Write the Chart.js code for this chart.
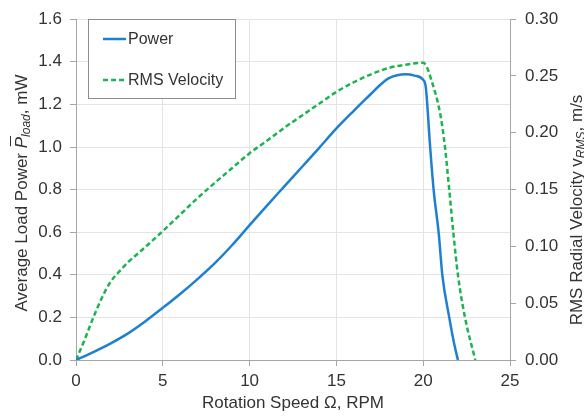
<!DOCTYPE html>
<html>
<head>
<meta charset="utf-8">
<script src="https://cdn.jsdelivr.net/npm/chart.js@4/dist/chart.umd.min.js"></script>
<style>
  html, body { margin: 0; padding: 0; background: #fff; }
  #wrap { width: 584px; height: 416px; }
</style>
</head>
<body>
<div id="wrap"><canvas id="speedChart" width="584" height="416"></canvas></div>
<script>
// rotation speed (RPM) vs. average load power (mW)
var powerSpeed  = [0, 1, 2, 3, 4, 5, 6, 7, 8, 9, 10, 11, 12, 13, 14, 15, 16, 17, 17.5, 18, 18.5, 19, 19.5, 20, 20.15, 20.4, 20.6, 20.9, 21.1, 21.5, 21.8, 22];
var powerValues = [0, 0.037, 0.078, 0.125, 0.182, 0.245, 0.31, 0.38, 0.455, 0.54, 0.633, 0.725, 0.815, 0.905, 0.995, 1.087, 1.17, 1.25, 1.29, 1.322, 1.337, 1.341, 1.335, 1.315, 1.28, 1.0, 0.8, 0.59, 0.4, 0.2, 0.07, 0];

// rotation speed (RPM) vs. RMS radial velocity (m/s)
var velocitySpeed  = [0, 0.5, 1, 1.5, 2, 2.5, 3, 4, 5, 6, 7, 8, 9, 10, 11, 12, 13, 14, 15, 16, 17, 18, 19, 20, 20.6, 21, 21.25, 21.5, 21.75, 22, 22.4, 23];
var velocityValues = [0, 0.018, 0.0375, 0.055, 0.069, 0.078, 0.086, 0.0995, 0.1135, 0.128, 0.1425, 0.156, 0.169, 0.182, 0.193, 0.2045, 0.215, 0.2255, 0.236, 0.2445, 0.2515, 0.257, 0.26, 0.2616, 0.24, 0.215, 0.188, 0.15, 0.11, 0.075, 0.038, 0];

var seriesNames = ['Power', 'RMS Velocity'];
var speedTicks = [0, 5, 10, 15, 20, 25];
var powerTicks = [0, 0.2, 0.4, 0.6, 0.8, 1.0, 1.2, 1.4, 1.6];
var velocityTicks = [0, 0.05, 0.1, 0.15, 0.2, 0.25, 0.3];

var FONT = '"Liberation Sans", Arial, sans-serif';
var TEXT = '#333333';
var AXIS = '#a6a6a6';
var GRID = '#e4e4e4';
var BLUE = '#1f7fd0';
var GREEN = '#1db350';

function toPoints(xs, ys) {
    return xs.map(function (x, i) { return { x: x, y: ys[i] }; });
}

// axis titles with italic symbols and subscripts
function drawRich(ctx, parts, cx, cy) {
    var total = 0;
    parts.forEach(function (p) {
        ctx.font = (p.italic ? 'italic ' : '') + (p.size || 17) + 'px ' + FONT;
        p.w = ctx.measureText(p.t).width;
        total += p.w;
    });
    ctx.save();
    ctx.translate(cx, cy);
    ctx.rotate(-Math.PI / 2);
    ctx.fillStyle = TEXT;
    ctx.textBaseline = 'middle';
    ctx.textAlign = 'left';
    var x = -total / 2;
    parts.forEach(function (p) {
        ctx.font = (p.italic ? 'italic ' : '') + (p.size || 17) + 'px ' + FONT;
        ctx.fillText(p.t, x, p.dy || 0);
        if (p.bar) {
            ctx.strokeStyle = TEXT;
            ctx.lineWidth = 1;
            ctx.beginPath();
            ctx.moveTo(x + 2, -11.5);
            ctx.lineTo(x + p.w + 1, -11.5);
            ctx.stroke();
        }
        x += p.w;
    });
    ctx.restore();
}

var titlesAndLegend = {
    id: 'titlesAndLegend',
    afterDraw: function (chart) {
        var ctx = chart.ctx;
        var area = chart.chartArea;

        // x title
        ctx.save();
        ctx.fillStyle = TEXT;
        ctx.font = '17px ' + FONT;
        ctx.textAlign = 'center';
        ctx.textBaseline = 'middle';
        ctx.fillText('Rotation Speed \u03A9, RPM', (area.left + area.right) / 2, 403);
        ctx.restore();

        drawRich(ctx, [
            { t: 'Average Load Power ' },
            { t: 'P', italic: true, bar: true },
            { t: 'load', italic: true, size: 12, dy: 5 },
            { t: ', mW' }
        ], 22, 193);

        drawRich(ctx, [
            { t: 'RMS Radial Velocity v' },
            { t: 'RMS', italic: true, size: 12, dy: 5 },
            { t: ', m/s' }
        ], 577, 210);

        // legend box
        ctx.save();
        ctx.fillStyle = '#ffffff';
        ctx.strokeStyle = '#8c8c8c';
        ctx.lineWidth = 1;
        ctx.fillRect(88.5, 19.5, 147, 79);
        ctx.strokeRect(88.5, 19.5, 147, 79);
        var rows = [39, 80];
        chart.data.datasets.forEach(function (ds, i) {
            ctx.strokeStyle = ds.borderColor;
            ctx.lineWidth = ds.borderWidth;
            ctx.setLineDash(ds.borderDash || []);
            ctx.beginPath();
            ctx.moveTo(103, rows[i]);
            ctx.lineTo(126, rows[i]);
            ctx.stroke();
            ctx.setLineDash([]);
            ctx.fillStyle = TEXT;
            ctx.font = '16px ' + FONT;
            ctx.textBaseline = 'middle';
            ctx.textAlign = 'left';
            ctx.fillText(ds.label, 128, rows[i] + 1);
        });
        ctx.restore();
    }
};

var ctx = document.getElementById('speedChart').getContext('2d');

var speedChart = new Chart(ctx, {
    type: 'line',
    data: {
        datasets: [
            {
                label: seriesNames[0],
                data: toPoints(powerSpeed, powerValues),
                yAxisID: 'y',
                borderColor: BLUE,
                borderWidth: 2.5,
                pointRadius: 0,
                cubicInterpolationMode: 'monotone',
                fill: false
            },
            {
                label: seriesNames[1],
                data: toPoints(velocitySpeed, velocityValues),
                yAxisID: 'y2',
                borderColor: GREEN,
                borderWidth: 2.5,
                borderDash: [5, 3],
                pointRadius: 0,
                cubicInterpolationMode: 'monotone',
                fill: false
            }
        ]
    },
    options: {
        responsive: false,
        animation: false,
        layout: { padding: { top: 14, left: 0, right: 0, bottom: 0 } },
        plugins: {
            legend: { display: false },
            tooltip: { enabled: false }
        },
        scales: {
            x: {
                type: 'linear',
                min: 0,
                max: 25,
                afterBuildTicks: function (s) { s.ticks = speedTicks.map(function (v) { return { value: v }; }); },
                afterFit: function (s) { s.height = 56; },
                grid: { color: GRID, tickColor: AXIS, tickLength: 6 },
                border: { color: AXIS },
                ticks: { color: TEXT, font: { family: FONT, size: 17 }, padding: 5, maxRotation: 0 }
            },
            y: {
                position: 'left',
                min: 0,
                max: 1.6,
                afterBuildTicks: function (s) { s.ticks = powerTicks.map(function (v) { return { value: v }; }); },
                afterFit: function (s) { s.width = 76; },
                grid: { color: GRID, tickColor: AXIS, tickLength: 6 },
                border: { color: AXIS },
                ticks: {
                    color: TEXT,
                    font: { family: FONT, size: 17 },
                    padding: 8,
                    callback: function (v) { return v.toFixed(1); }
                }
            },
            y2: {
                position: 'right',
                min: 0,
                max: 0.3,
                afterBuildTicks: function (s) { s.ticks = velocityTicks.map(function (v) { return { value: v }; }); },
                afterFit: function (s) { s.width = 74; },
                grid: { drawOnChartArea: false, tickColor: AXIS, tickLength: 6 },
                border: { color: AXIS },
                ticks: {
                    color: TEXT,
                    font: { family: FONT, size: 17 },
                    padding: 9,
                    callback: function (v) { return v.toFixed(2); }
                }
            }
        }
    },
    plugins: [titlesAndLegend]
});
</script>
</body>
</html>
